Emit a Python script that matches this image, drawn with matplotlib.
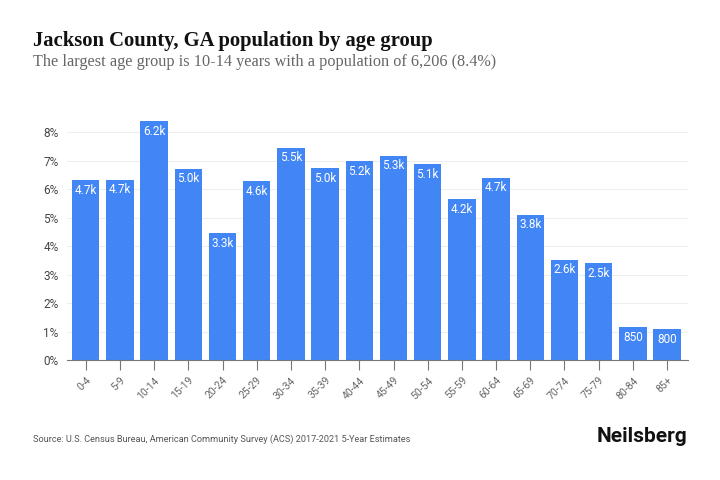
import numpy as np
import matplotlib.pyplot as plt

age_groups = ["0-4", "5-9", "10-14", "15-19", "20-24", "25-29", "30-34", "35-39",
              "40-44", "45-49", "50-54", "55-59", "60-64", "65-69", "70-74", "75-79",
              "80-84", "85+"]
population = [4670, 4685, 6206, 4960, 3295, 4640, 5510, 4980, 5160, 5310, 5080,
              4180, 4740, 3770, 2600, 2510, 850, 800]
y_ticks = [0, 1, 2, 3, 4, 5, 6, 7, 8]

pop = np.array(population, dtype=float)
share = pop / pop.sum() * 100


def fmt_pop(v):
    if v >= 1000:
        return "{:.1f}k".format(v / 1000)
    return "{:d}".format(int(v))


fig = plt.figure(figsize=(7.2, 4.8), dpi=100)
ax = fig.add_axes([0.093, 0.25, 0.862, 0.51])

x = np.arange(len(age_groups))
ax.bar(x, share, width=0.8, color="#4285f4", zorder=2)
for xi, s, p in zip(x, share, pop):
    ax.text(xi, s - 0.12, fmt_pop(p), ha="center", va="top", color="white",
            fontsize=8.5, family="Roboto", zorder=3)

ax.set_xlim(-0.55, len(age_groups) - 0.4)
ax.set_ylim(0, 8.6)
ax.set_yticks(y_ticks)
ax.set_yticklabels(["{}%".format(t) for t in y_ticks], family="Roboto", fontsize=8.5, color="#444444")
ax.set_xticks(x)
ax.set_xticklabels(age_groups, rotation=45, ha="right", rotation_mode="anchor",
                   family="Roboto", fontsize=7.5, color="#666666")
ax.tick_params(axis="y", length=0, pad=6)
ax.tick_params(axis="x", length=7, color="#777777", width=0.8, pad=4)
ax.grid(axis="y", color="#eeeeee", linewidth=0.8, zorder=0)
for side in ["top", "right", "left"]:
    ax.spines[side].set_visible(False)
ax.spines["bottom"].set_color("#777777")
ax.spines["bottom"].set_linewidth(0.8)

fig.text(0.046, 0.915, "Jackson County, GA population by age group", family="Liberation Serif",
         fontweight="bold", fontsize=14.9, color="#111111", va="center")
fig.text(0.046, 0.87, "The largest age group is 10-14 years with a population of 6,206 (8.4%)",
         family="Liberation Serif", fontsize=11.7, color="#666666", va="center")
fig.text(0.046, 0.085, "Source: U.S. Census Bureau, American Community Survey (ACS) 2017-2021 5-Year Estimates",
         family="Roboto", fontsize=6.6, color="#555555", va="center")
fig.text(0.955, 0.09, "Neilsberg", family="Roboto", fontweight="bold", fontsize=15,
         color="#111111", va="center", ha="right")

fig.savefig("out.png", dpi=100)
